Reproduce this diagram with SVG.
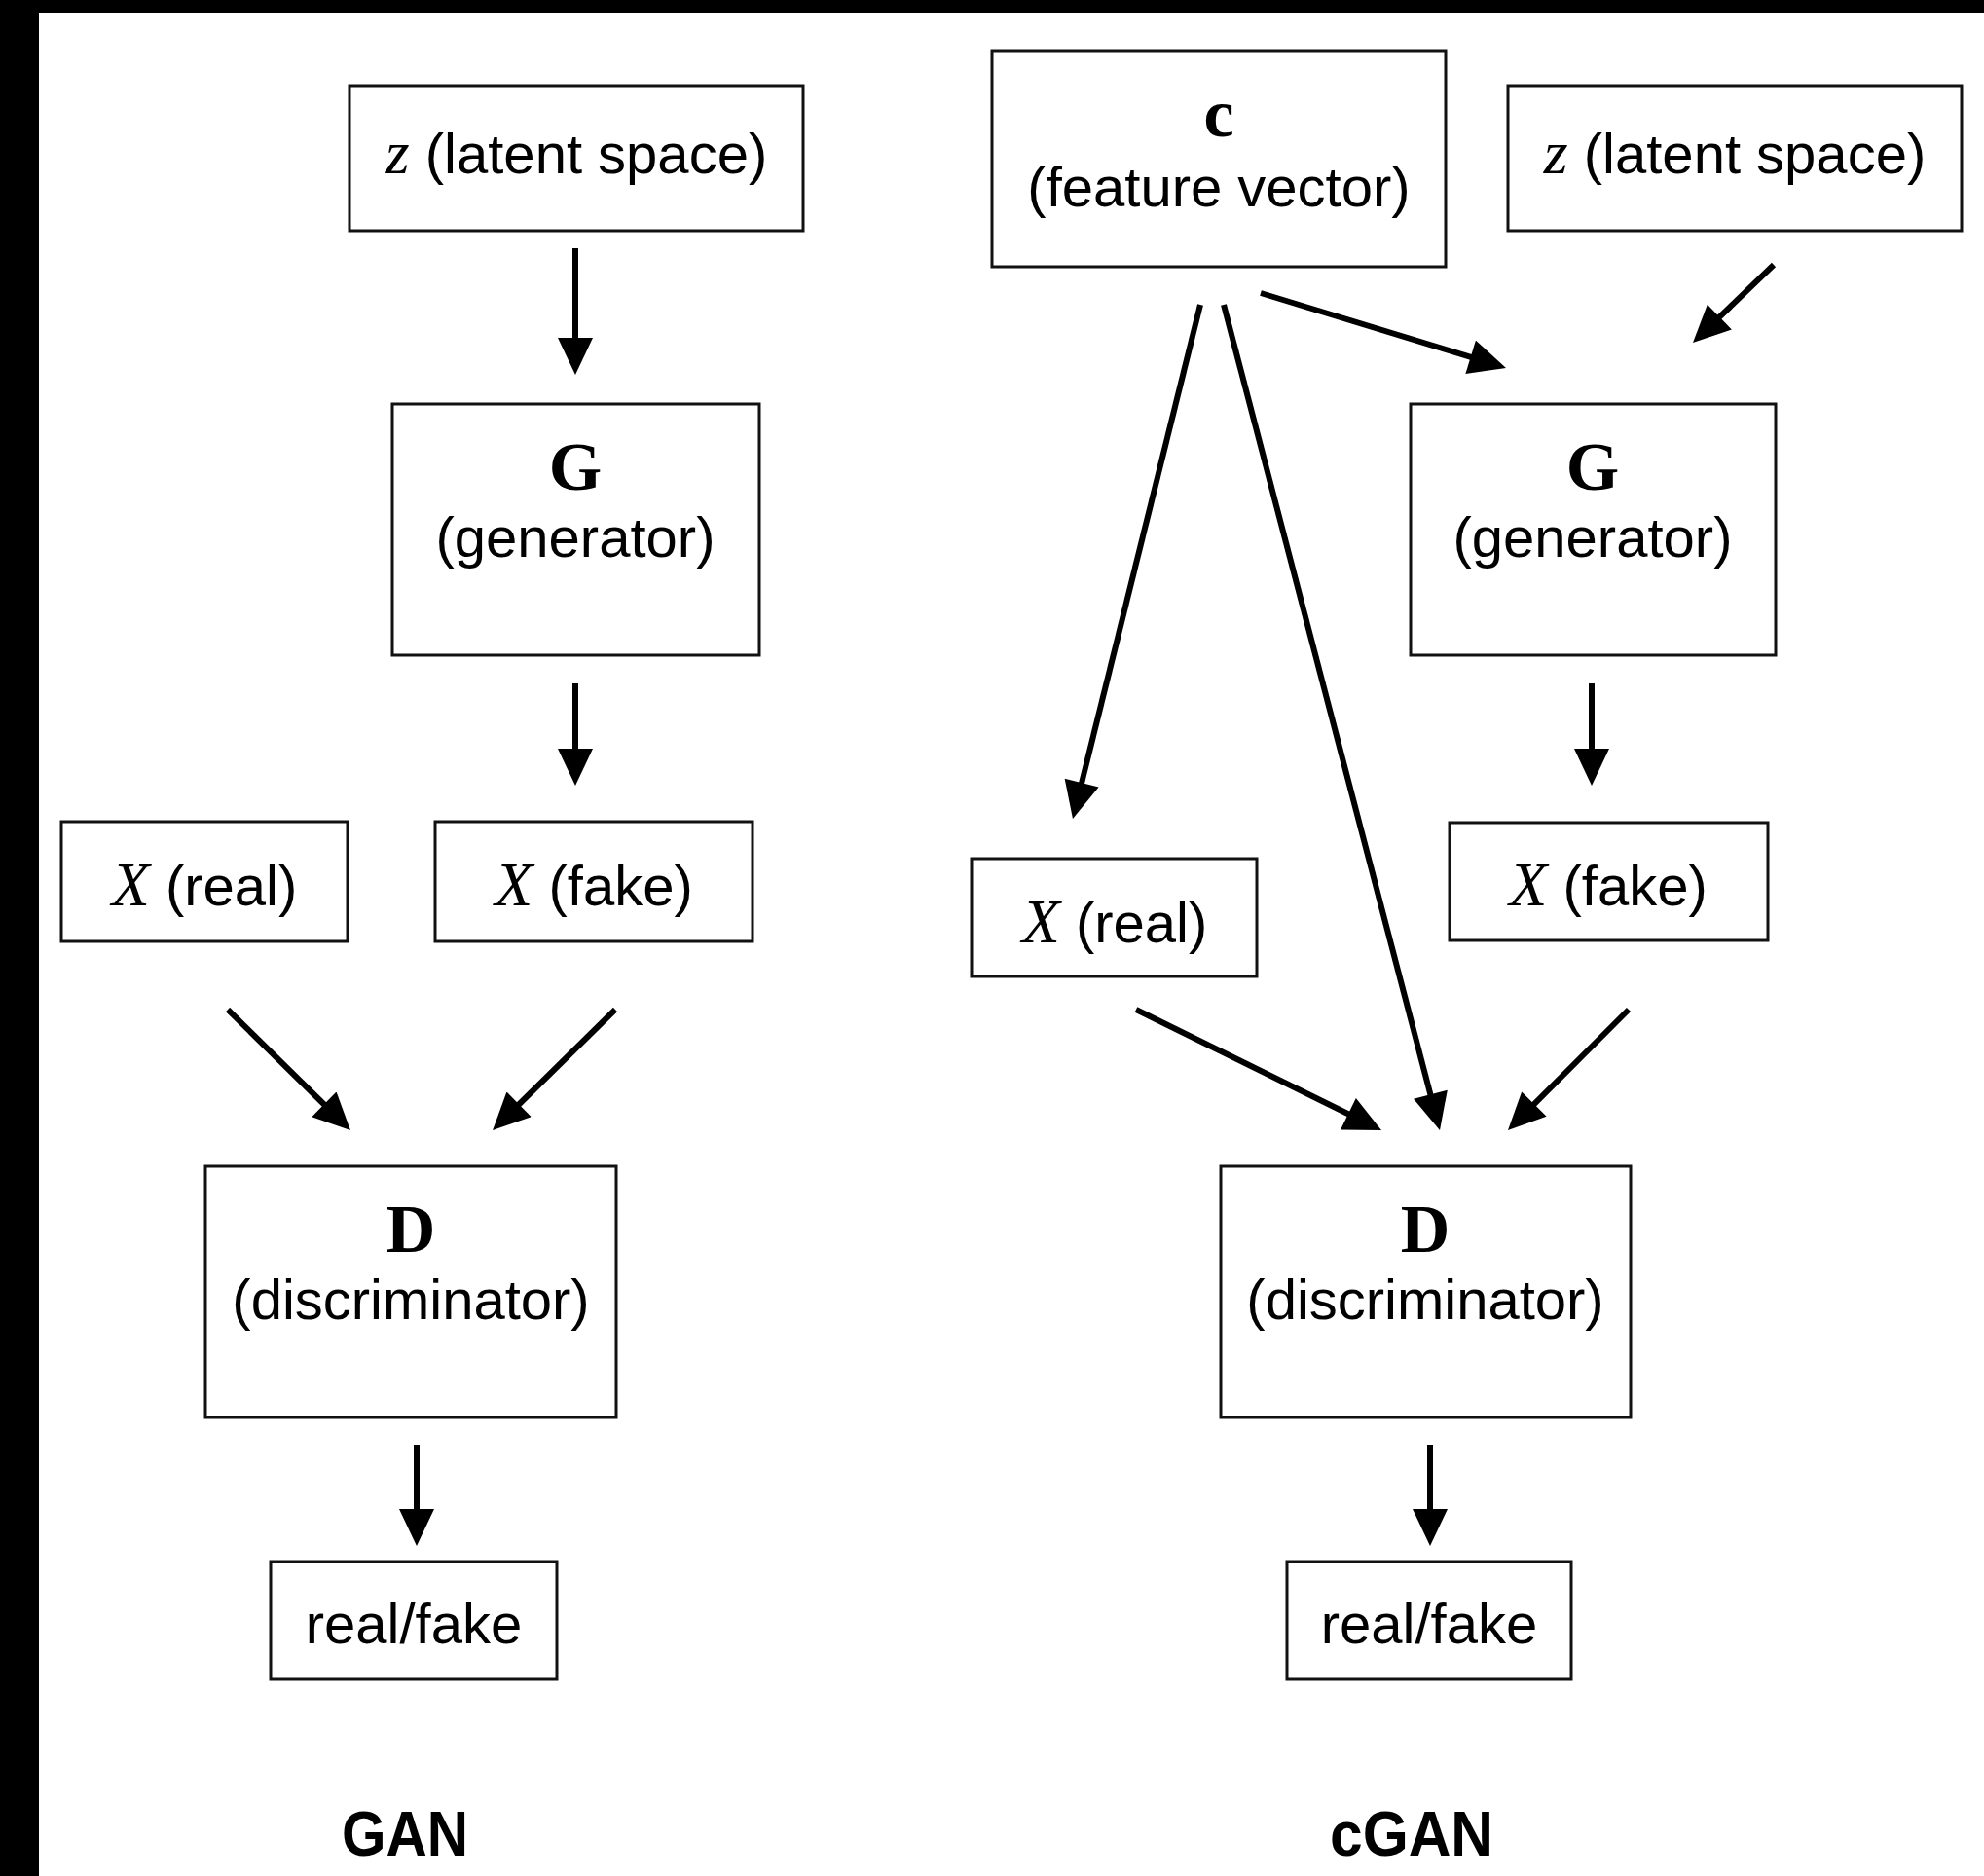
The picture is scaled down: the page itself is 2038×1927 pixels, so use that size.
<svg xmlns="http://www.w3.org/2000/svg" width="2038" height="1927" viewBox="0 0 2038 1927">
  <style>
    .box { fill: #fff; stroke: #111; stroke-width: 3; }
    .lbl { font-family: "Liberation Sans", Arial, sans-serif; font-size: 58px; fill: #000; text-anchor: middle; }
    .sym { font-family: "Liberation Serif", "Times New Roman", serif; font-weight: bold; font-size: 70px; fill: #000; text-anchor: middle; }
    .var { font-family: "Liberation Serif", "Times New Roman", serif; font-style: italic; font-size: 64px; }
    .title { font-family: "Liberation Sans", Arial, sans-serif; font-weight: bold; font-size: 65px; fill: #000; text-anchor: middle; }
    .edge { stroke: #000; stroke-width: 6; fill: none; marker-end: url(#head); }
  </style>
  <defs>
    <marker id="head" markerUnits="userSpaceOnUse" markerWidth="40" markerHeight="36" viewBox="0 0 38 36" refX="8" refY="18" orient="auto">
      <path d="M0,0 L38,18 L0,36 Z" fill="#000"/>
    </marker>
  </defs>

  <!-- page background with dark frame strips -->
  <rect x="0" y="0" width="2038" height="1927" fill="#000"/>
  <rect x="40" y="13" width="1998" height="1914" fill="#fff"/>

  <!-- GAN column -->
  <g id="gan-z">
    <rect class="box" x="359" y="88" width="466" height="149"/>
    <text class="lbl" x="592" y="178"><tspan class="var">z</tspan> (latent space)</text>
  </g>
  <g id="gan-g">
    <rect class="box" x="403" y="415" width="377" height="258"/>
    <text class="sym" x="591" y="503">G</text>
    <text class="lbl" x="591" y="572">(generator)</text>
  </g>
  <g id="gan-xreal">
    <rect class="box" x="63" y="844" width="294" height="123"/>
    <text class="lbl" x="210" y="930"><tspan class="var">X</tspan> (real)</text>
  </g>
  <g id="gan-xfake">
    <rect class="box" x="447" y="844" width="326" height="123"/>
    <text class="lbl" x="610" y="930"><tspan class="var">X</tspan> (fake)</text>
  </g>
  <g id="gan-d">
    <rect class="box" x="211" y="1198" width="422" height="258"/>
    <text class="sym" x="422" y="1286">D</text>
    <text class="lbl" x="422" y="1355">(discriminator)</text>
  </g>
  <g id="gan-out">
    <rect class="box" x="278" y="1604" width="294" height="121"/>
    <text class="lbl" x="425" y="1688">real/fake</text>
  </g>
  <g id="gan-title">
    <text class="title" x="416" y="1906" textLength="130" lengthAdjust="spacingAndGlyphs">GAN</text>
  </g>

  <!-- cGAN column -->
  <g id="cgan-c">
    <rect class="box" x="1019" y="52" width="466" height="222"/>
    <text class="sym" x="1252" y="140">c</text>
    <text class="lbl" x="1252" y="212">(feature vector)</text>
  </g>
  <g id="cgan-z">
    <rect class="box" x="1549" y="88" width="466" height="149"/>
    <text class="lbl" x="1782" y="178"><tspan class="var">z</tspan> (latent space)</text>
  </g>
  <g id="cgan-g">
    <rect class="box" x="1449" y="415" width="375" height="258"/>
    <text class="sym" x="1636" y="503">G</text>
    <text class="lbl" x="1636" y="572">(generator)</text>
  </g>
  <g id="cgan-xreal">
    <rect class="box" x="998" y="882" width="293" height="121"/>
    <text class="lbl" x="1145" y="968"><tspan class="var">X</tspan> (real)</text>
  </g>
  <g id="cgan-xfake">
    <rect class="box" x="1489" y="845" width="327" height="121"/>
    <text class="lbl" x="1652" y="930"><tspan class="var">X</tspan> (fake)</text>
  </g>
  <g id="cgan-d">
    <rect class="box" x="1254" y="1198" width="421" height="258"/>
    <text class="sym" x="1464" y="1286">D</text>
    <text class="lbl" x="1464" y="1355">(discriminator)</text>
  </g>
  <g id="cgan-out">
    <rect class="box" x="1322" y="1604" width="292" height="121"/>
    <text class="lbl" x="1468" y="1688">real/fake</text>
  </g>
  <g id="cgan-title">
    <text class="title" x="1450" y="1906" textLength="168" lengthAdjust="spacingAndGlyphs">cGAN</text>
  </g>

  <!-- connectors -->
  <g id="connectors">
    <line class="edge" x1="591" y1="255" x2="591" y2="355"/>
    <line class="edge" x1="591" y1="702" x2="591" y2="777"/>
    <line class="edge" x1="234" y1="1037" x2="338.6" y2="1140"/>
    <line class="edge" x1="632" y1="1037" x2="527.4" y2="1140"/>
    <line class="edge" x1="428" y1="1484" x2="428" y2="1558"/>

    <line class="edge" x1="1295" y1="301" x2="1518.3" y2="369.2"/>
    <line class="edge" x1="1822" y1="272" x2="1760.6" y2="331.2"/>
    <line class="edge" x1="1233" y1="313" x2="1109.2" y2="811.9"/>
    <line class="edge" x1="1257" y1="313" x2="1471.4" y2="1132"/>
    <line class="edge" x1="1635" y1="702" x2="1635" y2="777"/>
    <line class="edge" x1="1167" y1="1037" x2="1392.1" y2="1147.8"/>
    <line class="edge" x1="1673" y1="1037" x2="1570.2" y2="1139.8"/>
    <line class="edge" x1="1469" y1="1484" x2="1469" y2="1558"/>
  </g>
</svg>
